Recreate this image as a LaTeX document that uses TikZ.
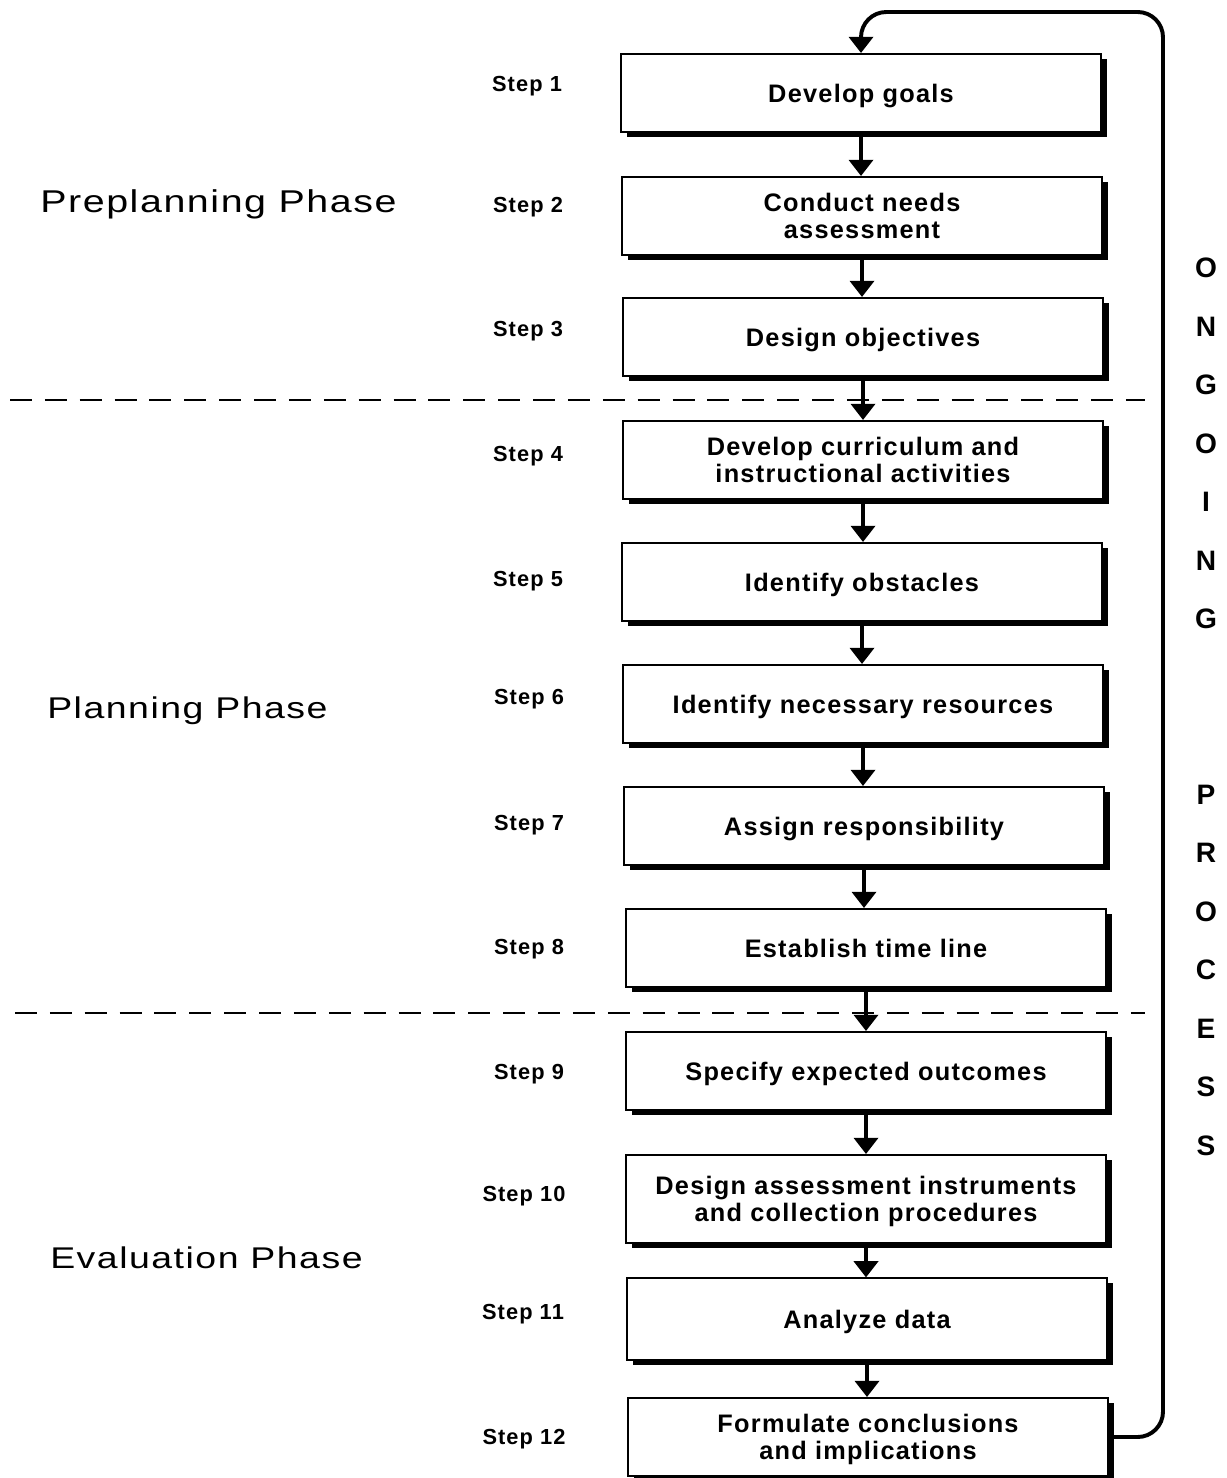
\documentclass[tikz,border=0pt]{standalone}
\usepackage{fontspec}
\setmainfont{Liberation Sans}
\newfontfamily\boxfont[LetterSpace=5]{Liberation Sans}
\newfontfamily\phasefont[FakeStretch=1.25,LetterSpace=5]{Liberation Sans}
\usetikzlibrary{arrows.meta,shadows}

\tikzset{
  stepbox/.style={draw, line width=1.4pt, fill=white, inner sep=0pt,
    minimum width=12cm, minimum height=1.95cm, align=center, text depth=0pt,
    font=\boxfont\bfseries\fontsize{18}{19.2}\selectfont,
    general shadow={fill=black, shadow xshift=4.2pt, shadow yshift=-3.6pt}},
  steplabel/.style={inner sep=0pt, font=\boxfont\bfseries\fontsize{15.5}{18}\selectfont},
  phaselabel/.style={inner sep=0pt, anchor=west, font=\phasefont\fontsize{21.3}{25}\selectfont},
  sidelabel/.style={inner sep=0pt, font=\bfseries\fontsize{20}{22}\selectfont},
  flow/.style={line width=2.8pt, -{Triangle[width=17pt,length=11.5pt]}},
  phaseline/.style={line width=1.8pt, dash pattern=on 15.6pt off 9.2pt}
}

\begin{document}
\begin{tikzpicture}[x=0.025cm,y=-0.025cm]

\useasboundingbox (0,0) rectangle (1226,1478);

\coordinate (L1) at (10,400);
\coordinate (R1) at (1145,400);
\coordinate (L2) at (15,1013);
\coordinate (R2) at (1145,1013);

\draw[phaseline] (L1) -- (R1);
\draw[phaseline] (L2) -- (R2);

\node[phaselabel, font=\phasefont\fontsize{22.4}{25}\selectfont] (pre) at (40,204) {Preplanning Phase};
\node[phaselabel] (plan) at (47,711) {Planning Phase};
\node[phaselabel] (eval) at (50,1258) {Evaluation Phase};

\node[stepbox] (b1) at (861,93) {Develop goals};
\node[stepbox] (b2) at (862,216) {Conduct needs\\assessment};
\node[stepbox] (b3) at (863,337) {Design objectives};
\node[stepbox] (b4) at (863,460) {Develop curriculum and\\instructional activities};
\node[stepbox] (b5) at (862,582) {Identify obstacles};
\node[stepbox] (b6) at (863,704) {Identify necessary resources};
\node[stepbox] (b7) at (864,826) {Assign responsibility};
\node[stepbox] (b8) at (866,948) {Establish time line};
\node[stepbox] (b9) at (866,1071) {Specify expected outcomes};
\node[stepbox, minimum height=2.2cm] (b10) at (866,1199) {Design assessment instruments\\and collection procedures};
\node[stepbox, minimum height=2.03cm] (b11) at (867,1319) {Analyze data};
\node[stepbox] (b12) at (868,1437) {Formulate conclusions\\and implications};

\node[steplabel] (s1) at (527,86) {Step 1};
\node[steplabel] (s2) at (528,207) {Step 2};
\node[steplabel] (s3) at (528,331) {Step 3};
\node[steplabel] (s4) at (528,456) {Step 4};
\node[steplabel] (s5) at (528,581) {Step 5};
\node[steplabel] (s6) at (529,699) {Step 6};
\node[steplabel] (s7) at (529,825) {Step 7};
\node[steplabel] (s8) at (529,949) {Step 8};
\node[steplabel] (s9) at (529,1074) {Step 9};
\node[steplabel] (s10) at (524,1196) {Step 10};
\node[steplabel] (s11) at (523,1314) {Step 11};
\node[steplabel] (s12) at (524,1439) {Step 12};

\foreach \a/\b in {1/2,2/3,3/4,4/5,5/6,6/7,7/8,8/9,9/10,10/11,11/12}
  \draw[flow] (b\a.south) -- (b\a.south |- b\b.north);

\coordinate (top) at (1163,12);
\draw[flow, rounded corners=18pt] (b12.east) -| (top) -| (b1.north);

\foreach \ch/\k in {O/0,N/1,G/2,O/3,I/4,N/5,G/6,P/9,R/10,O/11,C/12,E/13,S/14,S/15}
  \node[sidelabel] (side\k) at (1206,268+58.5*\k) {\ch};

\end{tikzpicture}
\end{document}
